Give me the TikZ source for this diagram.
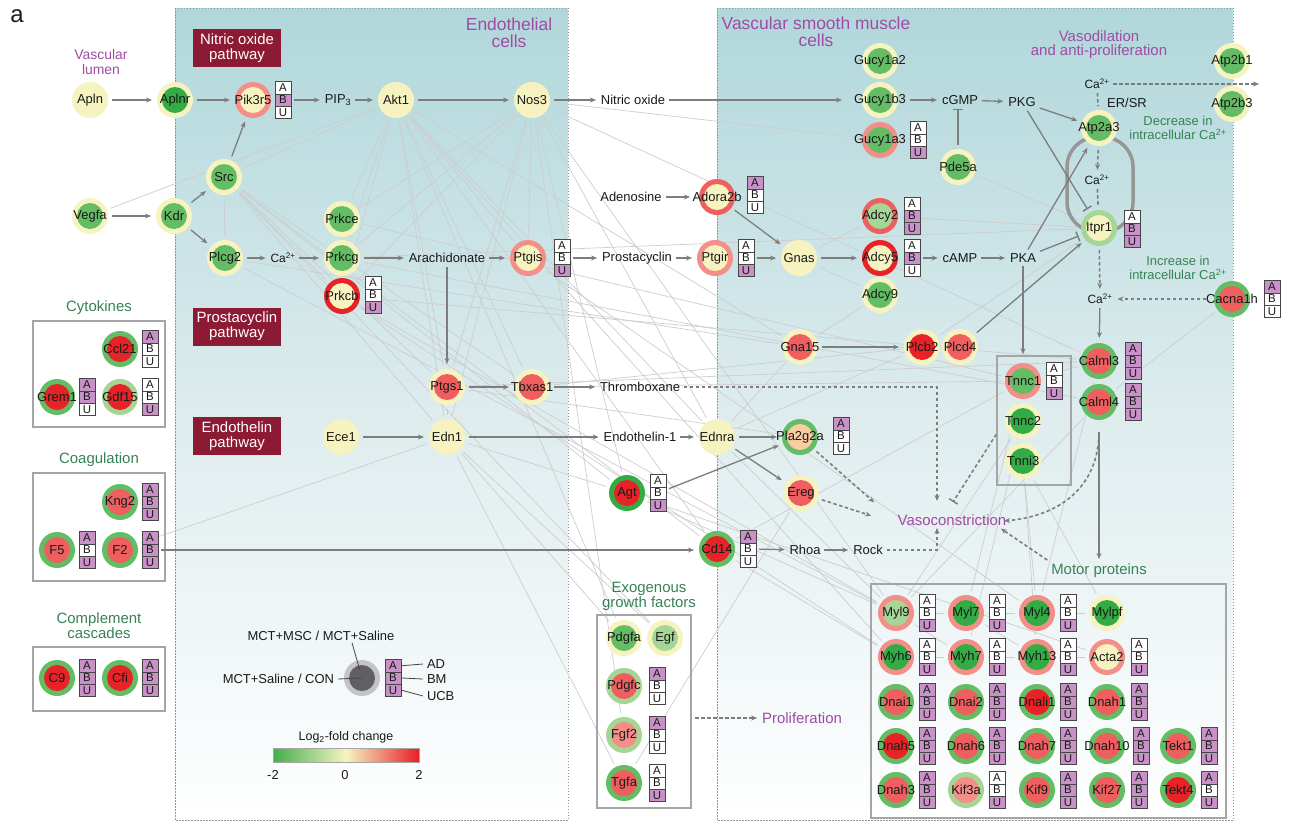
\documentclass[tikz,border=0pt]{standalone}
\usepackage{fontspec}
\setmainfont{Liberation Sans}
\usetikzlibrary{arrows.meta}
\pgfdeclarelayer{bg}
\pgfdeclarelayer{net}
\pgfsetlayers{bg,net,main}
\definecolor{cY}{RGB}{246,243,192}
\definecolor{cG}{RGB}{52,172,70}
\definecolor{cGm}{RGB}{100,188,100}
\definecolor{cGl}{RGB}{165,214,150}
\definecolor{cR}{RGB}{232,35,40}
\definecolor{cRm}{RGB}{240,95,95}
\definecolor{cRl}{RGB}{244,142,136}
\definecolor{cO}{RGB}{250,205,160}
\definecolor{abuP}{RGB}{200,145,200}
\colorlet{P}{abuP}
\colorlet{W}{white}
\definecolor{txt}{RGB}{25,25,25}
\definecolor{arrc}{RGB}{125,125,125}
\definecolor{cellb}{RGB}{70,70,70}
\definecolor{boxg}{RGB}{165,165,165}
\definecolor{pwred}{RGB}{140,26,52}
\definecolor{purp}{RGB}{160,75,165}
\definecolor{grnt}{RGB}{55,130,85}
\definecolor{panTop}{RGB}{176,215,218}
\definecolor{panMid}{RGB}{222,236,238}
\definecolor{panB}{RGB}{150,150,150}
\definecolor{legO}{RGB}{195,195,200}
\definecolor{legI}{RGB}{95,95,100}
\definecolor{cbG}{RGB}{65,175,75}
\definecolor{cbR}{RGB}{232,30,38}
\definecolor{netc}{RGB}{205,205,205}
\definecolor{loopc}{RGB}{150,150,150}
\tikzset{
  gnode/.style 2 args={circle, minimum size=36bp, inner sep=0pt, outer sep=4bp, fill=#1,
    path picture={\fill[#2] (path picture bounding box.center) circle[radius=13bp];},
    font=\fontsize{13}{14}\selectfont, text=txt},
  abucell/.style={draw=cellb, line width=0.6bp, minimum width=16bp, minimum height=12.3bp,
    inner sep=0pt, outer sep=3bp, font=\fontsize{11.5}{12}\selectfont, text=txt},
  lbl/.style={font=\fontsize{13}{14}\selectfont, text=txt, inner sep=1bp, outer sep=3bp},
  ca/.style={font=\fontsize{12}{13}\selectfont, text=txt, inner sep=1bp, outer sep=3bp},
  ptitle/.style={font=\fontsize{17.5}{17}\selectfont, text=purp, align=center},
  ptext/.style={font=\fontsize{15}{14}\selectfont, text=purp, align=center, inner sep=1bp, outer sep=3bp},
  gtitle/.style={font=\fontsize{15}{15}\selectfont, text=grnt, align=center, inner sep=1bp, outer sep=3bp},
  gsmall/.style={font=\fontsize{13}{14}\selectfont, text=grnt, align=center},
  pwbox/.style={fill=pwred, text=white, align=center, font=\fontsize{15}{15}\selectfont,
    minimum width=88bp, minimum height=38bp, inner sep=0pt},
  grpbox/.style={draw=boxg, line width=1.8bp, inner sep=0pt},
  arr/.style={draw=arrc, line width=1.3bp, -{Stealth[length=6bp,width=5bp]}, shorten >=1bp},
  inh/.style={draw=arrc, line width=1.3bp, -{Bar[width=10bp,line width=1.5bp]}},
  darr/.style={arr, dash pattern=on 3.5bp off 2.5bp, line width=1.6bp},
  dln/.style={draw=arrc, dash pattern=on 3.5bp off 2.5bp, line width=1.6bp},
  dinh/.style={inh, dash pattern=on 3.5bp off 2.5bp, line width=1.6bp},
  net/.style={draw=netc, line width=0.7bp},
  legline/.style={draw=cellb, line width=0.8bp},
  panborder/.style={draw=panB, line width=0.8bp, dash pattern=on 1.5bp off 1.5bp},
}
\newcommand\gn[5]{\node[gnode={#4}{#5}] (#1) at (#2,#3) {\makebox[0pt]{#1}};}
\newcommand\abu[6]{%
  \node[abucell,fill=#4] (#1-A) at (#2,#3-12.3) {A};
  \node[abucell,fill=#5] (#1-B) at (#2,#3) {B};
  \node[abucell,fill=#6] (#1-U) at (#2,#3+12.3) {U};}
\begin{document}
\begin{tikzpicture}[x=1bp,y=-1bp]
\useasboundingbox (0,0) rectangle (1308,823);
\begin{pgfonlayer}{bg}
\fill[white] (0,0) rectangle (1308,823);
\shade[top color=panTop, bottom color=white, middle color=panMid] (175,8) rectangle (568,820);
\shade[top color=panTop, bottom color=white, middle color=panMid] (717,8) rectangle (1233,820);
\draw[panborder] (175,8) rectangle (568,820);
\draw[panborder] (717,8) rectangle (1233,820);
\end{pgfonlayer}

% titles
\node[font=\fontsize{24}{24}\selectfont, text=txt] (lbla) at (17,16) {a};
\node[ptitle] (tEndo) at (509,33) {Endothelial\\cells};
\node[ptitle] (tVsmc) at (816,32) {Vascular smooth muscle\\cells};
\node[ptext, font=\fontsize{14}{14.5}\selectfont] (tLumen) at (101,62) {Vascular\\lumen};
\node[ptext] (tVasod) at (1099,45) {Vasodilation\\and anti-proliferation};
\node[gsmall] (tDec) at (1178,128) {Decrease in\\intracellular Ca\textsuperscript{2+}};
\node[gsmall] (tInc) at (1178,268) {Increase in\\intracellular Ca\textsuperscript{2+}};
\node[pwbox] (pwNO) at (237,48) {Nitric oxide\\pathway};
\node[pwbox] (pwPC) at (237,326.5) {Prostacyclin\\pathway};
\node[pwbox] (pwET) at (237,436) {Endothelin\\pathway};

% group boxes and titles
\node[gtitle] (tCyto) at (99,308) {Cytokines};
\node[grpbox, minimum width=132bp, minimum height=106bp] (boxCyto) at (99,374) {};
\node[gtitle] (tCoag) at (99,460) {Coagulation};
\node[grpbox, minimum width=132bp, minimum height=108bp] (boxCoag) at (99,527) {};
\node[gtitle] (tCompl) at (99,626) {Complement\\cascades};
\node[grpbox, minimum width=132bp, minimum height=64bp] (boxCompl) at (99,679) {};
\node[gtitle] (tExo) at (649,596) {Exogenous\\growth factors};
\node[grpbox, minimum width=94bp, minimum height=193bp] (boxExo) at (644,711.5) {};
\node[gtitle] (motor) at (1099,571) {Motor proteins};
\node[grpbox, minimum width=355bp, minimum height=234bp] (boxMotor) at (1048.5,701) {};
\node[grpbox, line width=1.5bp, minimum width=74bp, minimum height=129bp] (trop) at (1034,420.5) {};

% genes: endothelial and lumen
\gn{Apln}{90}{100}{cY}{cY}
\gn{Aplnr}{175}{100}{cY}{cG}
\gn{Pik3r5}{253}{100}{cRl}{cY}
\abu{Pik3r5}{283}{100}{W}{P}{W}
\gn{Akt1}{396}{100}{cY}{cY}
\gn{Nos3}{532}{100}{cY}{cY}
\gn{Src}{224}{177}{cY}{cGm}
\gn{Vegfa}{90}{216}{cY}{cGm}
\gn{Kdr}{174}{216}{cY}{cGm}
\gn{Plcg2}{225}{258}{cY}{cGm}
\gn{Prkce}{342}{219}{cY}{cGm}
\gn{Prkcg}{342}{258}{cY}{cGm}
\gn{Prkcb}{342}{296}{cR}{cY}
\abu{Prkcb}{373}{295}{W}{W}{P}
\gn{Ptgis}{528}{258}{cRl}{cY}
\abu{Ptgis}{562}{258}{W}{W}{P}
\gn{Ptgs1}{447}{387}{cY}{cRm}
\gn{Tbxas1}{532}{387}{cY}{cRm}
\gn{Ece1}{341}{437}{cY}{cY}
\gn{Edn1}{447}{437}{cY}{cY}
% VSMC
\gn{Gucy1a2}{880}{61}{cY}{cGm}
\gn{Gucy1b3}{880}{100}{cY}{cGm}
\gn{Gucy1a3}{880}{140}{cRl}{cGm}
\abu{Gucy1a3}{918}{140}{W}{W}{P}
\gn{Pde5a}{958}{167}{cY}{cGm}
\gn{Adora2b}{717}{197}{cRm}{cY}
\abu{Adora2b}{755}{195}{P}{W}{W}
\gn{Ptgir}{715}{258}{cRl}{cY}
\abu{Ptgir}{746}{258}{W}{W}{P}
\gn{Gnas}{799}{258}{cY}{cY}
\gn{Adcy2}{880}{216}{cRm}{cGl}
\abu{Adcy2}{912}{216}{W}{P}{P}
\gn{Adcy5}{880}{258}{cR}{cY}
\abu{Adcy5}{912}{258}{W}{P}{W}
\gn{Adcy9}{880}{295}{cY}{cGm}
\gn{Atp2b1}{1232}{61}{cY}{cGm}
\gn{Atp2b3}{1232}{104}{cY}{cGm}
\gn{Atp2a3}{1099}{128}{cY}{cGm}
\gn{Itpr1}{1099}{228}{cGl}{cY}
\abu{Itpr1}{1132}{229}{W}{P}{P}
\gn{Cacna1h}{1232}{299}{cGm}{cRm}
\abu{Cacna1h}{1272}{299}{P}{W}{W}
\gn{Calml3}{1099}{361}{cGm}{cRm}
\abu{Calml3}{1133}{361}{P}{P}{P}
\gn{Calml4}{1099}{402}{cGm}{cRm}
\abu{Calml4}{1133}{402}{P}{P}{P}
\gn{Tnnc1}{1023}{381}{cRl}{cGm}
\abu{Tnnc1}{1054}{381}{W}{W}{P}
\gn{Tnnc2}{1023}{421}{cY}{cG}
\gn{Tnni3}{1023}{461}{cY}{cG}
\gn{Gna15}{800}{347}{cY}{cRm}
\gn{Plcb2}{922}{347}{cY}{cR}
\gn{Plcd4}{960}{347}{cY}{cRm}
\gn{Ednra}{717}{437}{cY}{cY}
\gn{Pla2g2a}{800}{437}{cGm}{cO}
\abu{Pla2g2a}{841}{436}{P}{W}{W}
\gn{Ereg}{801}{493}{cY}{cRm}
\gn{Agt}{627}{493}{cG}{cR}
\abu{Agt}{658}{493}{W}{W}{P}
\gn{Cd14}{717}{549}{cGm}{cR}
\abu{Cd14}{748}{549}{P}{W}{W}
% left groups
\gn{Ccl21}{120}{349}{cGm}{cR}
\abu{Ccl21}{150}{349}{P}{W}{W}
\gn{Grem1}{57}{397}{cGm}{cR}
\abu{Grem1}{87}{397}{P}{P}{W}
\gn{Gdf15}{120}{397}{cGl}{cR}
\abu{Gdf15}{150}{397}{W}{W}{P}
\gn{Kng2}{120}{502}{cGm}{cRm}
\abu{Kng2}{150}{502}{P}{P}{P}
\gn{F5}{57}{550}{cGm}{cRm}
\abu{F5}{87}{550}{P}{W}{P}
\gn{F2}{120}{550}{cGm}{cRm}
\abu{F2}{150}{550}{P}{P}{P}
\gn{C9}{57}{678}{cGm}{cR}
\abu{C9}{87}{678}{P}{P}{P}
\gn{Cfi}{120}{678}{cGm}{cR}
\abu{Cfi}{150}{678}{P}{P}{P}
% exogenous growth factors
\gn{Pdgfa}{624}{638}{cY}{cGm}
\gn{Egf}{665}{638}{cY}{cGl}
\gn{Pdgfc}{624}{686}{cGl}{cRm}
\abu{Pdgfc}{657}{686}{P}{W}{W}
\gn{Fgf2}{624}{735}{cGl}{cRl}
\abu{Fgf2}{657}{735}{P}{W}{W}
\gn{Tgfa}{624}{783}{cGm}{cRm}
\abu{Tgfa}{657}{783}{W}{W}{P}
% motor proteins
\gn{Myl9}{896}{613}{cRl}{cGl}     \abu{Myl9}{927}{613}{W}{W}{P}
\gn{Myl7}{966}{613}{cRl}{cG}      \abu{Myl7}{997}{613}{W}{W}{P}
\gn{Myl4}{1037}{613}{cRl}{cG}     \abu{Myl4}{1068}{613}{W}{W}{P}
\gn{Mylpf}{1107}{613}{cY}{cG}
\gn{Myh6}{896}{657}{cRl}{cG}      \abu{Myh6}{927}{657}{W}{W}{P}
\gn{Myh7}{966}{657}{cRl}{cG}      \abu{Myh7}{997}{657}{W}{W}{P}
\gn{Myh13}{1037}{657}{cRl}{cG}    \abu{Myh13}{1068}{657}{W}{W}{P}
\gn{Acta2}{1107}{657}{cRl}{cY}    \abu{Acta2}{1139}{657}{W}{W}{P}
\gn{Dnai1}{896}{702}{cGm}{cRm}    \abu{Dnai1}{927}{702}{P}{P}{P}
\gn{Dnai2}{966}{702}{cGm}{cRm}    \abu{Dnai2}{997}{702}{P}{P}{P}
\gn{Dnali1}{1037}{702}{cGm}{cR}   \abu{Dnali1}{1068}{702}{P}{P}{P}
\gn{Dnah1}{1107}{702}{cGm}{cRm}   \abu{Dnah1}{1139}{702}{P}{P}{P}
\gn{Dnah5}{896}{746}{cGm}{cR}     \abu{Dnah5}{927}{746}{P}{P}{P}
\gn{Dnah6}{966}{746}{cGm}{cRm}    \abu{Dnah6}{997}{746}{P}{P}{P}
\gn{Dnah7}{1037}{746}{cGm}{cRm}   \abu{Dnah7}{1068}{746}{P}{P}{P}
\gn{Dnah10}{1107}{746}{cGm}{cRm}  \abu{Dnah10}{1141}{746}{P}{P}{P}
\gn{Tekt1}{1178}{746}{cGm}{cRm}   \abu{Tekt1}{1209}{746}{P}{P}{P}
\gn{Dnah3}{896}{790}{cGm}{cRm}    \abu{Dnah3}{927}{790}{P}{P}{P}
\gn{Kif3a}{966}{790}{cGl}{cRl}    \abu{Kif3a}{997}{790}{W}{W}{P}
\gn{Kif9}{1037}{790}{cGm}{cRm}    \abu{Kif9}{1068}{790}{P}{P}{P}
\gn{Kif27}{1107}{790}{cGm}{cRm}   \abu{Kif27}{1139}{790}{P}{P}{P}
\gn{Tekt4}{1178}{790}{cGm}{cR}    \abu{Tekt4}{1209}{790}{P}{W}{P}

% text nodes
\node[lbl] (PIP3) at (338,100) {PIP\textsubscript{3}};
\node[lbl] (NO) at (633,100) {Nitric oxide};
\node[lbl] (cGMP) at (960,100) {cGMP};
\node[lbl] (PKG) at (1022,102) {PKG};
\node[ca] (CaTop) at (1097,84) {Ca\textsuperscript{2+}};
\node[lbl] (ERSR) at (1127,103) {ER/SR};
\node[ca] (CaMid) at (1097,180) {Ca\textsuperscript{2+}};
\node[ca] (CaLow) at (1100,299) {Ca\textsuperscript{2+}};
\node[ca] (CaPlc) at (283,258) {Ca\textsuperscript{2+}};
\node[lbl] (Arach) at (447,258) {Arachidonate};
\node[lbl] (Prostac) at (637,258) {Prostacyclin};
\node[lbl] (Adeno) at (631,197) {Adenosine};
\node[lbl] (cAMP) at (960,258) {cAMP};
\node[lbl] (PKA) at (1023,258) {PKA};
\node[lbl] (Thromb) at (640,387) {Thromboxane};
\node[lbl] (Endo1) at (640,437) {Endothelin-1};
\node[lbl] (Rhoa) at (805,550) {Rhoa};
\node[lbl] (Rock) at (868,550) {Rock};
\node[ptext] (Vaso) at (952,520) {Vasoconstriction};
\node[ptext] (Prolif) at (802,718) {Proliferation};

\coordinate (caout) at (1260,84);
\coordinate (vthr) at (937,502);
\coordinate (vrock) at (937,527);
\coordinate (vpla) at (875,503);
\coordinate (vereg) at (872,516);
\coordinate (vtrop) at (953,502);
\coordinate (vcal) at (1003,521);
\coordinate (vmot) at (1000,528);
\coordinate (exoout) at (695,718);

% background network
\begin{pgfonlayer}{net}
\foreach \a/\b in {Vegfa/Akt1, Akt1/Prkce, Akt1/Prkcg, Akt1/Prkcb, Akt1/Ptgs1, Akt1/Edn1,
  Akt1/Tbxas1, Akt1/Ptgis, Akt1/Src, Akt1/Ednra, Akt1/Cd14, Akt1/Myh6, Akt1/Gna15,
  Nos3/Prkce, Nos3/Prkcg, Nos3/Prkcb, Nos3/Edn1, Nos3/Ptgs1, Nos3/Ptgis, Nos3/Ednra,
  Nos3/Agt, Nos3/Calml3, Nos3/Gucy1a3, Nos3/Myl9, Src/Ptgs1, Src/Edn1, Src/Tbxas1,
  Src/Prkcb, Src/Plcg2, Src/Cd14, Src/Agt, Plcg2/Myl9, Plcg2/Gna15, Prkcb/Myl9, Prkcb/Myh6,
  Prkcb/Calml3, Prkcg/Itpr1, Prkce/Tnnc1, Prkcg/Calml4, Edn1/Pdgfa, Edn1/Egf, Edn1/Tgfa,
  Edn1/Agt, Edn1/Ptgs1, Ptgs1/Pla2g2a, Tbxas1/Plcb2, F2/Edn1, Egf/Src, Pdgfa/Akt1,
  Fgf2/Nos3, Tgfa/Ereg, Gnas/Adcy2, Gnas/Adcy9, Adcy9/Gna15, Pde5a/Itpr1, Adcy2/Itpr1,
  Plcb2/Itpr1, Gna15/Plcd4, Ednra/Gna15, Ednra/Plcb2, Ednra/Myl9, Agt/Myl9, Agt/Acta2,
  Cd14/Myh6, Cd14/Tnnc1, Ptgis/Myl4, Calml3/Tnnc1, Cacna1h/Calml4, Calml3/Myl4,
  Calml4/Myl9, Tnnc1/Myl7, Tnnc2/Myh7, Tnni3/Myl4, Tnni3/Myh13, Tnnc2/Myl9, Tnni3/Mylpf,
  Myl9/Myl7, Myl7/Myl4, Myl4/Mylpf, Myh6/Myh7, Myh7/Myh13, Myh13/Acta2, Myl9/Myh7,
  Myl7/Myh13, Tbxas1/Tnnc1, Ptgs1/Calml3}
  \draw[net] (\a) -- (\b);
\draw[draw=loopc, line width=3.5bp, rounded corners=30bp] (1067,137) rectangle (1133,232);
\end{pgfonlayer}

% solid arrows
\draw[arr] (Apln) -- (Aplnr);
\draw[arr] (Aplnr) -- (Pik3r5);
\draw[arr] (Pik3r5-B) -- (PIP3);
\draw[arr] (PIP3) -- (Akt1);
\draw[arr] (Akt1) -- (Nos3);
\draw[arr] (Nos3) -- (NO);
\draw[arr, shorten >=16bp] (NO) -- (Gucy1b3);
\draw[arr, shorten <=8bp] (Gucy1b3) -- (cGMP);
\draw[arr] (cGMP) -- (PKG);
\draw[inh] (Pde5a) -- (Pde5a |- cGMP.south);
\draw[arr] (PKG) -- (Atp2a3);
\draw[inh] (PKG) -- (Itpr1);
\draw[arr] (Vegfa) -- (Kdr);
\draw[arr] (Kdr) -- (Src);
\draw[arr] (Kdr) -- (Plcg2);
\draw[arr] (Src) -- (Pik3r5);
\draw[arr] (Plcg2) -- (CaPlc);
\draw[arr] (CaPlc) -- (Prkcg);
\draw[arr] (Prkcg) -- (Arach);
\draw[arr] (Arach) -- (Ptgis);
\draw[arr] (Ptgis-B) -- (Prostac);
\draw[arr] (Prostac) -- (Ptgir);
\draw[arr] (Ptgir-B) -- (Gnas);
\draw[arr, shorten >=5bp] (Adeno) -- (Adora2b);
\draw[arr] (Adora2b) -- (Gnas);
\draw[arr] (Gnas) -- (Adcy5);
\draw[arr] (Adcy5-B) -- (cAMP);
\draw[arr] (cAMP) -- (PKA);
\draw[arr] (PKA) -- (Atp2a3);
\draw[inh] (PKA) -- (Itpr1);
\draw[arr] (PKA) -- (PKA |- trop.north);
\draw[arr] (Plcd4) -- (Itpr1);
\draw[arr] (Gna15) -- (Plcb2);
\draw[arr] (Arach) -- (Ptgs1);
\draw[arr] (Ptgs1) -- (Tbxas1);
\draw[arr] (Tbxas1) -- (Thromb);
\draw[arr] (Ece1) -- (Edn1);
\draw[arr] (Edn1) -- (Endo1);
\draw[arr] (Endo1) -- (Ednra);
\draw[arr] (Ednra) -- (Pla2g2a);
\draw[arr] (Ednra) -- (Ereg);
\draw[arr] (Agt-B) -- (Pla2g2a);
\draw[arr] (F2-B) -- (F2-B -| Cd14.west);
\draw[arr] (Cd14-B) -- (Rhoa);
\draw[arr] (Rhoa) -- (Rock);
\draw[arr] (CaLow) -- (Calml3);
\draw[arr] ([yshift=-8bp]Calml4.south) -- (motor);

% dashed
\draw[darr] (CaTop) -- (caout);
\draw[dln] (CaTop) -- (Atp2a3);
\draw[darr] (Atp2a3) -- (CaMid);
\draw[dln] (CaMid) -- (Itpr1);
\draw[darr] (Itpr1) -- (CaLow);
\draw[darr, shorten <=4bp] (Cacna1h) -- (CaLow);
\draw[darr] (Thromb) -| (vthr);
\draw[darr] (Rock) -| (vrock);
\draw[darr] (Pla2g2a) -- (vpla);
\draw[darr] (Ereg) -- (vereg);
\draw[dinh] (trop.200) -- (vtrop);
\draw[darr] ([yshift=-10bp]Calml4.south) .. controls (1097,495) and (1050,517) .. (vcal);
\draw[darr] (motor.north west) -- (vmot);
\draw[darr] (exoout) -- (Prolif);

% legend
\node[gnode={legO}{legI}] (legc) at (362,678) {};
\abu{leg}{393}{678}{P}{P}{P}
\node[lbl, anchor=west] (AD) at (423,664) {AD};
\node[lbl, anchor=west] (BM) at (423,679) {BM};
\node[lbl, anchor=west] (UCB) at (423,696) {UCB};
\draw[legline] ([xshift=-2bp]leg-A.east) -- (AD.west);
\draw[legline] ([xshift=-2bp]leg-B.east) -- (BM.west);
\draw[legline] ([xshift=-2bp]leg-U.east) -- (UCB.west);
\node[lbl] (tMSC) at (321,636) {MCT+MSC / MCT+Saline};
\node[lbl, anchor=east] (tSal) at (338,679) {MCT+Saline / CON};
\draw[legline, shorten >=9bp] ([xshift=31bp,yshift=2bp]tMSC.south) -- (legc.center);
\draw[legline] (tSal.east) -- (legc.center);
\node[lbl, font=\fontsize{12.5}{13}\selectfont] (tLog) at (346,737) {Log\textsubscript{2}-fold change};
\node[draw=boxg, line width=0.6bp, minimum width=146bp, minimum height=14bp, inner sep=0pt,
  left color=cbG, right color=cbR, middle color=cY] (cbar) at (346,755) {};
\node[lbl] (cbm) at (273,775) {-2};
\node[lbl] (cb0) at (345,775) {0};
\node[lbl] (cbp) at (419,775) {2};
\end{tikzpicture}
\end{document}
